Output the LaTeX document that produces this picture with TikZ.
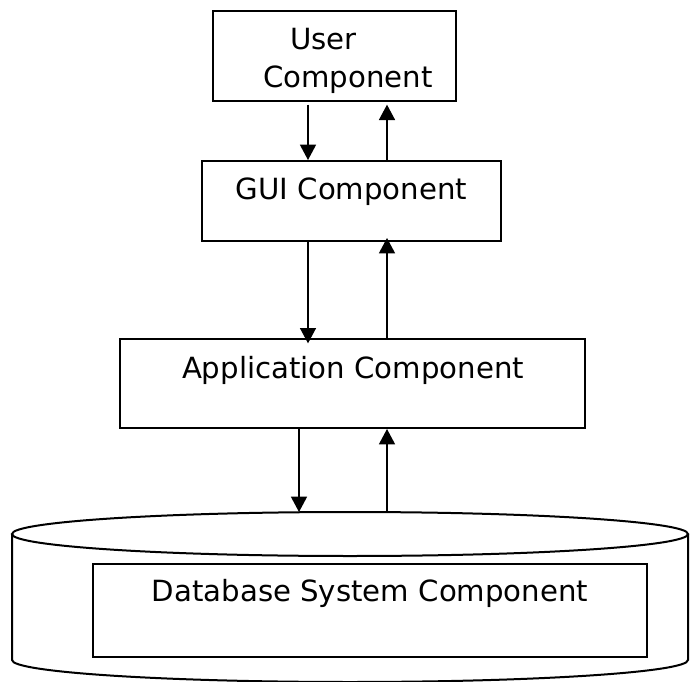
\documentclass[tikz,border=0pt]{standalone}
\usepackage{fontspec}
\setmainfont{DejaVu Sans}
\usetikzlibrary{arrows.meta, positioning}

\begin{document}
\begin{tikzpicture}[x=0.75pt, y=-0.75pt,
    comp/.style={draw, line width=1.5pt, inner sep=0pt},
    lbl/.style={inner sep=0pt, font=\fontsize{21.9}{26}\selectfont},
    flow/.style={line width=1.1pt, -{Triangle[length=11.5pt, width=12pt]}}]
    \useasboundingbox (0,0) rectangle (690,682);
%    \tikzstyle{every node} = [draw]
    \node [comp, minimum width=182.25pt, minimum height=67.5pt] (user) at (334.5, 56) {};
    \node [comp, minimum width=224.25pt, minimum height=60pt] (gui) at (351.5, 201) {};
    \node [comp, minimum width=348.75pt, minimum height=66.75pt] (app) at (352.5, 383.5) {};
    \node [lbl, anchor=base west] (usertxt) at (290, 49) {User};
    \node [lbl, anchor=base west] (usercomp) at (263, 87) {Component};
    \node [lbl, anchor=base] (guitxt) at (351.5, 199) {GUI Component};
    \node [lbl, anchor=base] (apptxt) at (353, 378) {Application Component};
    % database drum
    \draw [line width=1.5pt] (350, 534) ellipse [x radius=338, y radius=22];
    \draw [line width=1.5pt] (12, 534) -- (12, 660)
      arc [start angle=180, end angle=0, x radius=338, y radius=22] -- (688, 534);
    \coordinate (dbtop) at (350, 512);
    \node [comp, minimum width=415.5pt, minimum height=69.75pt] (db) at (370, 610.5) {};
    \node [lbl, anchor=base] (dbtxt) at (370, 601) {Database System Component};
    % arrow columns
    \coordinate (dn) at (308, 0);
    \coordinate (up) at (387, 0);
    \coordinate (dnlow) at (299, 0);
    \draw [flow, shorten <=2pt] (user.south -| dn) -- (gui.north -| dn);
    \draw [flow, shorten >=2pt] (gui.north -| up) -- (user.south -| up);
    \draw [flow, shorten >=-4pt] (gui.south -| dn) -- (app.north -| dn);
    \draw [flow, shorten >=-3pt] (app.north -| up) -- (gui.south -| up);
    \draw [flow] (app.south -| dnlow) -- (dbtop -| dnlow);
    \draw [flow] (dbtop -| up) -- (app.south -| up);
\end{tikzpicture}
\end{document}
